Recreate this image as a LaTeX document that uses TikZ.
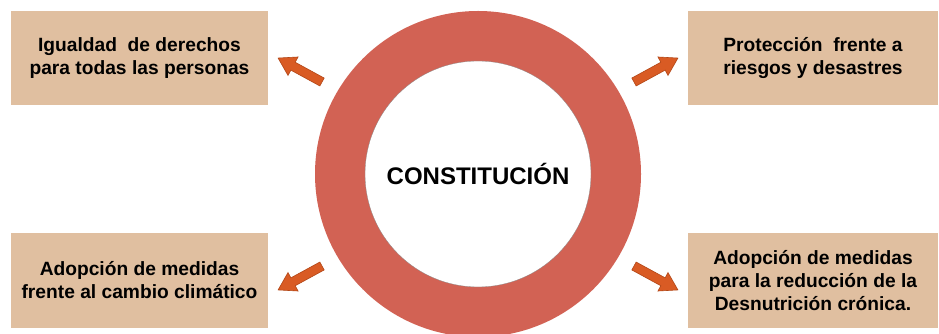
\documentclass[tikz,border=0pt]{standalone}
\usepackage{fontspec}
\setmainfont{Liberation Sans}
\usetikzlibrary{calc}
\definecolor{boxtan}{RGB}{224,191,160}
\definecolor{ringred}{RGB}{210,98,84}
\definecolor{arrowfill}{RGB}{217,91,36}
\definecolor{arrowedge}{RGB}{178,70,22}
\begin{document}
\begin{tikzpicture}[x=1pt,y=1pt,
  infobox/.style={fill=boxtan, draw=none, inner sep=0pt, align=center,
    font=\bfseries\fontsize{19.2}{23}\selectfont, text=black},
  barrow/.pic={\draw[fill=arrowfill, draw=arrowedge, line width=0.6pt, line join=miter]
    (0,-4.5) -- (33,-4.5) -- (33,-10.5) -- (50,0) -- (33,10.5) -- (33,4.5) -- (0,4.5) -- cycle;}
]
\useasboundingbox (0,0) rectangle (939,334);
\fill[white] (0,0) rectangle (939,334);
% ring
\coordinate (c) at (478,160);
\fill[ringred, even odd rule] (c) circle (163) (c) circle (113);
\draw[black!45, line width=0.3pt] (c) circle (113);
\node[font=\bfseries\fontsize{24}{28}\selectfont] (core) at (c) {CONSTITUCIÓN};
% boxes
\node[infobox, minimum width=257, minimum height=94] (tl) at (139.5,276)
  {Igualdad \ de derechos\\para todas las personas};
\node[infobox, minimum width=250, minimum height=94] (tr) at (813,276)
  {Protección \ frente a\\riesgos y desastres};
\node[infobox, minimum width=257, minimum height=95] (bl) at (139.5,53.5)
  {Adopción de medidas\\frente al cambio climático};
\node[infobox, minimum width=250, minimum height=95] (br) at (813,53.5)
  {Adopción de medidas\\para la reducción de la\\Desnutrición crónica.};
% arrows
\coordinate (atl) at ($(c)+(-156,92)$);
\coordinate (atr) at ($(c)+(156,92)$);
\coordinate (abl) at ($(c)+(-156,-92)$);
\coordinate (abr) at ($(c)+(156,-92)$);
\pic[rotate=151.4] at (atl) {barrow};
\pic[rotate=28.6] at (atr) {barrow};
\pic[rotate=208.6] at (abl) {barrow};
\pic[rotate=-28.6] at (abr) {barrow};
\end{tikzpicture}
\end{document}
